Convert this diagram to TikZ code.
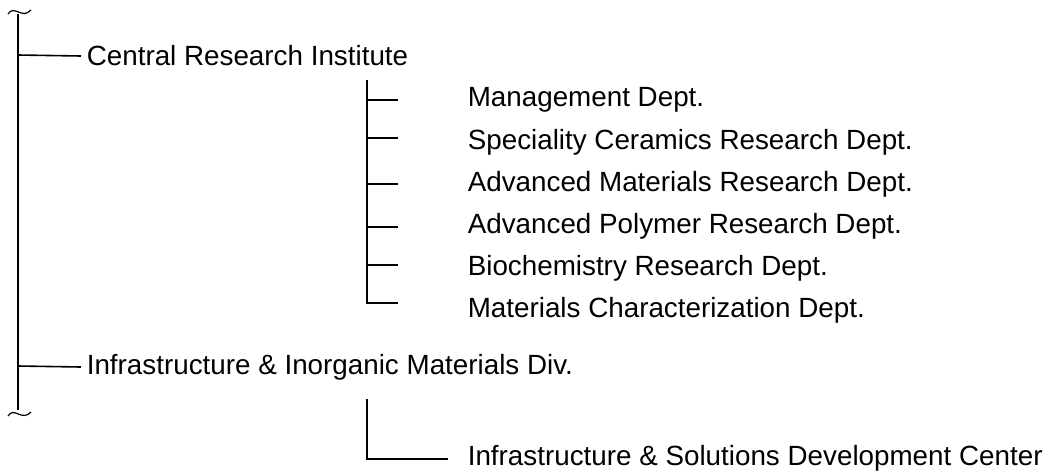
\documentclass[tikz,border=0pt]{standalone}
\usepackage{fontspec}
\setmainfont{Liberation Sans}
\usetikzlibrary{positioning}

\begin{document}
\begin{tikzpicture}[x=1pt, y=-1pt, line width=1.6pt,
  orgtext/.style={anchor=west, inner sep=0pt, font=\fontsize{27.8}{32}\selectfont}]
  \useasboundingbox (0,0) rectangle (1059,472);

  % Main trunk with break marks
  \coordinate (top) at (18,14);
  \coordinate (bottom) at (18,410);
  \draw (top) -- (bottom);
  \draw[line width=1.2pt] (8,14) .. controls (14,4) and (22,20) .. (31,10);
  \draw[line width=1.2pt] (8,416) .. controls (14,406) and (22,422) .. (31,412);

  % First level
  \node[orgtext] (cri) at (86,56) {Central Research Institute};
  \node[orgtext] (iim) at (86,367) {Infrastructure \& Inorganic Materials Div.};
  \draw (18,55) -- ([xshift=-5pt]cri.west);
  \draw (18,366) -- ([xshift=-5pt]iim.west);

  % Departments
  \node[orgtext] (mgmt) at (467,100) {Management Dept.};
  \node[orgtext] (ceram) at (467,142) {Speciality Ceramics Research Dept.};
  \node[orgtext] (advmat) at (467,184) {Advanced Materials Research Dept.};
  \node[orgtext] (advpoly) at (467,226) {Advanced Polymer Research Dept.};
  \node[orgtext] (biochem) at (467,268) {Biochemistry Research Dept.};
  \node[orgtext] (matchar) at (467,310) {Materials Characterization Dept.};

  \draw (367,80) -- (367,303) -- (398,303);
  \foreach \y in {100,138,184,227,265}
    \draw (367,\y) -- (398,\y);

  % Development center
  \node[orgtext] (isdc) at (467,458) {Infrastructure \& Solutions Development Center};
  \draw (367,399) -- (367,459) -- (448,459);
\end{tikzpicture}
\end{document}
